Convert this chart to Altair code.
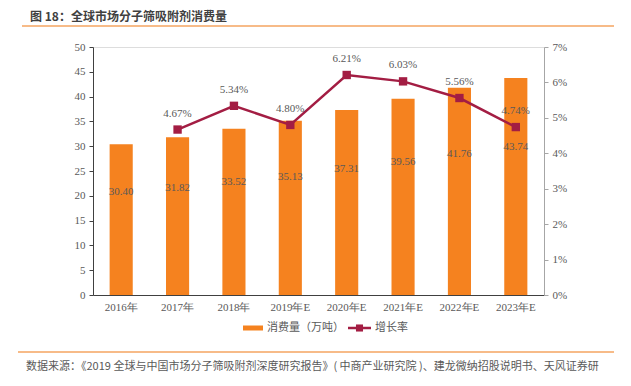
import altair as alt
import pandas as pd

years = ["2016年", "2017年", "2018年", "2019年E", "2020年E", "2021年E", "2022年E", "2023年E"]
consumption = [30.40, 31.82, 33.52, 35.13, 37.31, 39.56, 41.76, 43.74]
growth = [None, 4.67, 5.34, 4.80, 6.21, 6.03, 5.56, 4.74]

df = pd.DataFrame({"year": years, "cons": consumption, "pct": growth})

W, H = 451, 248
ORANGE = "#F5821F"
RED = "#A31D43"
GREY = "#595959"
SERIF = "Liberation Serif"
CJK = "Noto Sans CJK SC"

xenc = alt.X("year:N", sort=years, title=None,
             scale=alt.Scale(paddingInner=0.59, paddingOuter=0.295),
             axis=alt.Axis(labelAngle=0, labelFont=SERIF, labelFontSize=11, labelColor=GREY,
                           ticks=False, domainColor="#404040", labelPadding=6))
xsame = alt.X("year:N", sort=years)

left_axis = alt.Axis(values=list(range(0, 51, 5)), grid=False, labelFont=SERIF,
                     labelFontSize=11, labelColor=GREY, domainColor="#404040",
                     tickColor="#404040", tickSize=4, labelPadding=4,
                     labelOverlap=False, title=None)
left_scale = alt.Scale(domain=[0, 50])
right_axis = alt.Axis(orient="right", values=list(range(0, 8)), grid=False,
                      labelExpr="datum.value + '%'", labelFont=SERIF, labelFontSize=11,
                      labelColor=GREY, domainColor="#A6A6A6", tickColor="#A6A6A6",
                      tickSize=4, labelPadding=4, labelOverlap=False, title=None)
right_scale = alt.Scale(domain=[0, 7])

base = alt.Chart(df)

bars = base.mark_bar(color=ORANGE).encode(
    x=xenc,
    y=alt.Y("cons:Q", title=None, scale=left_scale, axis=left_axis),
)

bar_text = base.transform_calculate(ly="datum.cons * 0.68").mark_text(
    font=SERIF, fontSize=11, color=GREY
).encode(
    x=xsame,
    y=alt.Y("ly:Q", title=None, scale=left_scale, axis=left_axis),
    text=alt.Text("cons:Q", format=".2f"),
)

left = alt.layer(bars, bar_text)

line_base = base.transform_filter("datum.pct != null").transform_calculate(
    lbl="format(datum.pct, '.2f') + '%'")
yR = alt.Y("pct:Q", title=None, scale=right_scale, axis=right_axis)
line = line_base.mark_line(color=RED, strokeWidth=2.5).encode(x=xsame, y=yR)
pts = line_base.mark_square(color=RED, size=70, opacity=1).encode(x=xsame, y=yR)
pct_text = line_base.mark_text(font=SERIF, fontSize=11, color=GREY, dy=-16).encode(
    x=xsame, y=yR, text="lbl:N")

right = alt.layer(line, pts, pct_text)

# decorations (page coords minus plot origin 93,47)
deco_df = pd.DataFrame({"k": [0]})
d = alt.Chart(deco_df)
title = d.mark_text(text="图 18：全球市场分子筛吸附剂消费量", font=CJK, fontSize=12, fontWeight="bold",
                    color="#404040", align="left", baseline="middle").encode(
    x=alt.value(-63), y=alt.value(-30))
top_rule = d.mark_rule(color="#F4A460", strokeWidth=1.5).encode(
    x=alt.value(-71), x2=alt.value(527), y=alt.value(-21))
bot_rule = d.mark_rule(color="#F4A460", strokeWidth=1.5).encode(
    x=alt.value(-75), x2=alt.value(527), y=alt.value(305))
source = d.mark_text(text="数据来源：《2019 全球与中国市场分子筛吸附剂深度研究报告》( 中商产业研究院 )、建龙微纳招股说明书、天风证券研",
                     font=CJK, fontSize=11, color=GREY, align="left", baseline="middle").encode(
    x=alt.value(-67), y=alt.value(320))
leg_bar = d.mark_rule(color=ORANGE, strokeWidth=5).encode(
    x=alt.value(150), x2=alt.value(170), y=alt.value(281))
leg_bar_t = d.mark_text(text="消费量（万吨）", font=CJK, fontSize=11, color=GREY, align="left",
                        baseline="middle").encode(x=alt.value(174), y=alt.value(281))
leg_line = d.mark_rule(color=RED, strokeWidth=2.5).encode(
    x=alt.value(255), x2=alt.value(278), y=alt.value(281))
leg_sq = d.mark_square(color=RED, size=50, opacity=1).encode(x=alt.value(266.5), y=alt.value(281))
leg_line_t = d.mark_text(text="增长率", font=CJK, fontSize=11, color=GREY, align="left",
                         baseline="middle").encode(x=alt.value(282), y=alt.value(281))
deco = alt.layer(title, top_rule, bot_rule, source, leg_bar, leg_bar_t, leg_line, leg_sq, leg_line_t)

chart = alt.layer(left, right, deco).resolve_scale(y="independent").properties(
    width=W, height=H,
    autosize=alt.AutoSizeParams(type="none"),
    padding={"left": 85, "top": 39, "right": 70, "bottom": 80},
).configure_view(stroke=None).configure(background="white")

chart.save("out.html", embed_options={"renderer": "svg", "actions": False})
